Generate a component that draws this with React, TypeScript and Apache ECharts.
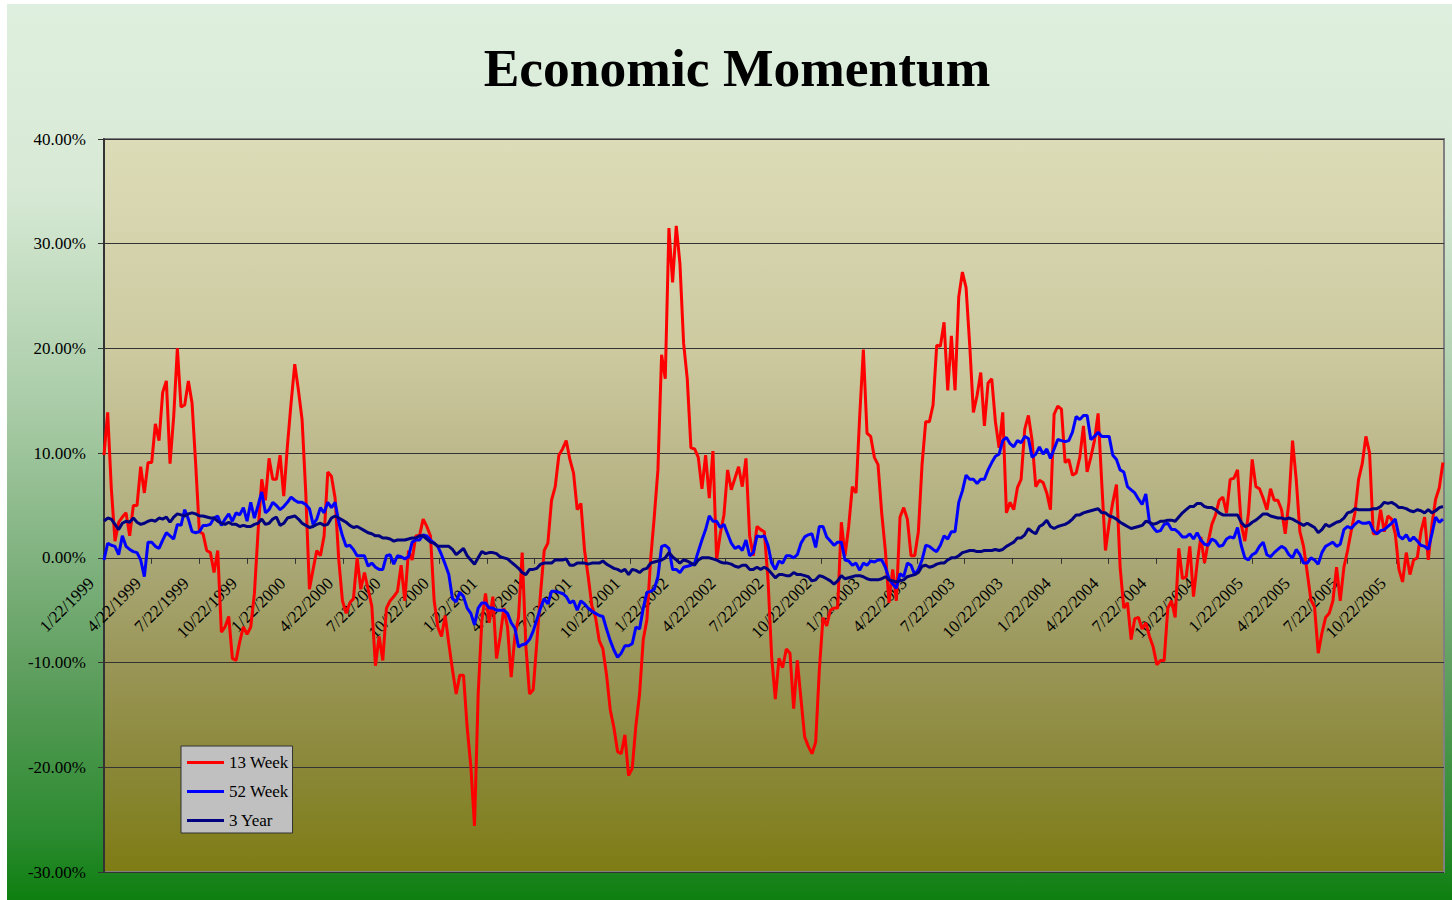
import { useEffect, useRef } from "react";
import * as echarts from "echarts";

const TITLE = "Economic Momentum";
const FIRST_DATE = "1/22/1999";
const AXIS_END = "1/22/2006";
const SERIES_NAMES = ["13 Week", "52 Week", "3 Year"];
const Y_MIN = -30;
const Y_MAX = 40;
const Y_STEP = 10;
const QUARTER_LABELS = [
  "1/22/1999", "4/22/1999", "7/22/1999", "10/22/1999",
  "1/22/2000", "4/22/2000", "7/22/2000", "10/22/2000",
  "1/22/2001", "4/22/2001", "7/22/2001", "10/22/2001",
  "1/22/2002", "4/22/2002", "7/22/2002", "10/22/2002",
  "1/22/2003", "4/22/2003", "7/22/2003", "10/22/2003",
  "1/22/2004", "4/22/2004", "7/22/2004", "10/22/2004",
  "1/22/2005", "4/22/2005", "7/22/2005", "10/22/2005",
];

// weekly values, in percent
const week13 = [
  9.8, 13.9, 6.6, 1.6, 3.4, 3.9, 4.3, 2.1, 5.0, 5.0,
  8.7, 6.2, 9.1, 9.1, 12.8, 11.2, 15.8, 16.9, 9.0, 13.5,
  20.0, 14.4, 14.6, 16.9, 14.8, 8.9, 2.5, 2.3, 0.7, 0.5,
  -1.4, 0.7, -7.1, -6.6, -5.6, -9.6, -9.8, -8.0, -6.6, -7.3,
  -6.6, -3.4, 2.5, 7.5, 5.5, 9.5, 7.5, 7.5, 9.8, 5.9,
  10.7, 14.8, 18.5, 16.0, 13.2, 6.2, -3.0, -1.1, 0.7, 0.2,
  2.1, 8.2, 7.8, 5.7, -0.2, -4.1, -5.3, -4.3, -3.9, 0.0,
  -3.0, -1.4, -3.0, -4.6, -10.3, -7.5, -9.8, -4.8, -4.1, -3.7,
  -3.2, -0.7, -4.1, 0.7, -0.2, 2.1, 2.1, 3.7, 3.0, 2.1,
  -4.1, -6.6, -7.5, -5.5, -8.2, -10.7, -13.0, -11.2, -11.2, -16.2,
  -19.9, -25.6, -13.0, -6.0, -3.4, -6.2, -3.7, -9.6, -7.5, -4.8,
  -6.6, -11.4, -7.5, -5.7, 0.5, -8.4, -13.0, -12.6, -8.0, -3.4,
  0.7, 1.4, 5.5, 6.8, 9.8, 10.4, 11.2, 9.4, 8.1, 4.6,
  5.2, 0.7, -1.8, -4.6, -5.7, -7.9, -8.7, -11.2, -14.5, -16.2,
  -18.5, -18.7, -16.9, -20.8, -20.1, -16.0, -13.0, -7.8, -5.9, -0.2,
  3.9, 8.4, 19.4, 17.1, 31.5, 26.3, 31.7, 28.1, 20.5, 17.1,
  10.5, 10.4, 9.6, 6.6, 9.8, 5.7, 10.2, -0.2, 2.3, 4.1,
  8.4, 6.5, 7.6, 8.7, 6.8, 9.5, 2.1, 0.2, 3.0, 2.7,
  2.5, -2.0, -9.4, -13.5, -9.6, -10.5, -8.7, -9.1, -14.4, -9.8,
  -13.5, -17.1, -18.0, -18.7, -17.6, -10.7, -5.7, -6.5, -5.0, -4.8,
  -4.8, 3.4, 0.2, 3.0, 6.8, 6.2, 13.5, 19.9, 11.9, 11.6,
  9.6, 8.9, 4.3, 0.7, -4.3, -1.1, -4.1, 3.9, 4.8, 3.7,
  0.2, 0.2, 2.5, 8.9, 13.0, 13.0, 14.6, 20.3, 20.2, 22.5,
  16.0, 21.2, 16.0, 24.9, 27.3, 25.8, 20.3, 13.9, 15.5, 17.7,
  12.6, 16.7, 17.1, 13.0, 10.5, 13.9, 4.3, 5.3, 4.6, 6.7,
  7.5, 12.3, 13.6, 11.2, 6.8, 7.4, 7.2, 6.2, 4.6, 13.7,
  14.5, 14.2, 9.1, 9.4, 7.9, 8.1, 9.6, 12.6, 8.2, 9.6,
  11.2, 13.8, 7.1, 0.7, 3.3, 5.3, 7.0, -0.9, -4.8, -4.3,
  -7.8, -5.8, -5.7, -6.8, -6.2, -7.5, -8.5, -10.2, -9.8, -9.8,
  -4.8, -4.1, -5.7, 0.9, -2.0, -1.8, 1.1, -3.7, -0.5, 2.0,
  -0.5, 1.5, 3.2, 4.1, 5.5, 5.8, 4.3, 7.5, 7.6, 8.4,
  3.2, 1.6, 4.3, 9.4, 6.8, 6.6, 5.7, 4.6, 6.6, 5.5,
  5.5, 4.6, 2.3, 5.3, 11.2, 7.5, 2.5, 1.1, -1.4, -4.0,
  -4.7, -9.1, -7.2, -5.7, -5.3, -4.1, -0.9, -4.1, -0.9, 0.7,
  2.6, 4.3, 7.5, 9.0, 11.6, 10.0, 2.3, 2.3, 4.6, 2.5,
  4.0, 3.7, 2.3, -1.1, -2.3, 0.5, -1.6, -0.2, 0.0, 2.5,
  3.9, -0.2, 3.2, 5.6, 6.7, 9.1,
];

const week52 = [
  -0.2, 1.4, 1.2, 1.1, 0.3, 2.1, 1.1, 0.8, 0.6, 0.5,
  -0.2, -1.8, 1.5, 1.5, 1.1, 0.9, 1.7, 2.4, 2.1, 1.8,
  3.2, 3.1, 4.6, 3.7, 2.5, 2.4, 2.5, 3.1, 3.1, 3.2,
  3.8, 4.0, 3.1, 3.7, 4.2, 3.5, 4.3, 4.1, 4.8, 3.5,
  5.3, 3.8, 5.0, 6.3, 4.3, 4.6, 5.3, 5.0, 4.6, 4.9,
  5.3, 5.8, 5.5, 5.3, 5.3, 5.1, 4.7, 3.2, 3.7, 4.8,
  4.3, 5.3, 4.8, 5.3, 3.4, 2.1, 1.1, 1.2, 0.8, 0.2,
  0.2, 0.2, -0.8, -0.5, -0.9, -1.1, -1.1, 0.2, 0.3, -0.6,
  0.2, 0.1, -0.1, 0.1, 1.5, 1.7, 1.7, 2.2, 2.1, 1.7,
  1.4, 1.1, 0.3, -0.6, -1.6, -3.9, -4.2, -3.3, -3.7, -4.8,
  -5.3, -6.4, -4.8, -4.3, -4.3, -4.8, -4.8, -5.0, -5.0, -5.0,
  -5.3, -6.2, -6.7, -8.5, -8.3, -8.2, -7.8, -7.0, -5.9, -4.8,
  -3.9, -4.4, -3.2, -3.2, -3.3, -3.4, -3.7, -4.3, -4.1, -5.0,
  -4.1, -4.4, -4.8, -5.1, -5.3, -5.5, -5.6, -6.8, -7.9, -8.8,
  -9.5, -9.1, -8.4, -8.4, -8.2, -6.6, -6.8, -4.8, -3.3, -3.2,
  -3.0, -1.8, 1.1, 1.2, 0.9, -1.1, -1.1, -1.4, -0.9, -0.8,
  -0.7, -0.5, 0.6, 1.7, 2.7, 4.0, 3.5, 3.5, 2.9, 3.2,
  2.3, 1.4, 0.9, 1.1, 0.7, 1.7, 0.2, 0.5, 2.1, 2.0,
  2.1, 1.2, -0.5, -1.1, -0.3, -0.5, 0.2, 0.2, 0.0, 0.3,
  1.4, 2.0, 2.2, 2.3, 1.0, 3.0, 3.0, 2.0, 1.6, 1.2,
  1.5, 1.5, -0.2, -0.3, -0.7, -0.5, -1.2, -0.5, -0.7, -0.3,
  -0.4, -0.2, -0.2, -0.9, -2.0, -2.5, -2.9, -1.5, -1.8, -0.5,
  -0.7, -1.6, -1.1, -0.2, 1.2, 1.1, 0.8, 0.6, 1.2, 2.1,
  1.8, 2.5, 2.5, 5.3, 6.4, 7.9, 7.5, 7.5, 7.1, 7.5,
  7.5, 8.4, 9.1, 9.7, 9.9, 11.2, 11.5, 10.9, 10.6, 11.2,
  11.0, 11.6, 11.4, 9.6, 9.9, 10.6, 9.9, 10.4, 9.5, 10.4,
  11.3, 11.2, 11.1, 11.2, 12.0, 13.5, 13.2, 13.6, 13.6, 11.3,
  11.6, 12.0, 11.6, 11.6, 11.6, 9.8, 9.4, 8.4, 8.2, 6.8,
  6.5, 6.2, 5.6, 5.1, 6.1, 3.4, 2.9, 2.5, 2.6, 3.2,
  3.3, 2.7, 2.7, 2.4, 2.0, 2.0, 2.3, 1.8, 2.4, 1.7,
  1.3, 1.2, 1.8, 1.6, 1.1, 1.2, 1.8, 2.0, 1.9, 2.9,
  1.2, 0.0, -0.2, 0.3, 0.5, 1.1, 1.5, 0.3, 0.1, 0.5,
  0.8, 1.1, 0.9, 0.3, 0.0, 0.8, 0.3, -0.5, -0.5, 0.0,
  -0.2, -0.6, 0.5, 1.1, 1.3, 1.5, 1.1, 1.3, 2.7, 3.0,
  2.8, 3.2, 3.5, 3.3, 3.3, 3.4, 2.6, 2.3, 2.6, 2.7,
  3.0, 3.3, 3.7, 2.1, 1.8, 2.2, 1.6, 2.0, 1.6, 1.2,
  1.1, 0.8, 2.3, 3.9, 3.4, 3.7,
];

const year3 = [
  3.5, 3.8, 3.7, 3.2, 2.7, 3.3, 3.5, 3.4, 3.8, 3.4,
  3.2, 3.3, 3.5, 3.6, 3.5, 3.8, 3.7, 3.9, 3.4, 3.9,
  4.2, 4.1, 4.0, 4.2, 4.3, 4.2, 4.0, 4.0, 3.9, 3.8,
  3.8, 3.5, 3.3, 3.2, 3.4, 3.2, 3.2, 3.0, 3.1, 3.0,
  3.0, 3.2, 3.3, 3.7, 3.2, 3.3, 3.7, 3.9, 3.1, 3.3,
  3.8, 3.9, 4.0, 3.7, 3.3, 3.1, 2.9, 3.0, 3.2, 3.3,
  3.1, 3.2, 3.8, 4.0, 3.8, 3.6, 3.4, 3.1, 2.9, 3.0,
  2.8, 2.6, 2.4, 2.3, 2.1, 2.1, 1.9, 1.9, 1.8, 1.6,
  1.7, 1.7, 1.7, 1.8, 1.9, 1.9, 2.1, 2.1, 1.8, 1.5,
  1.4, 1.1, 1.1, 1.1, 1.1, 0.8, 0.3, 0.6, 0.9, 0.2,
  -0.2, -0.6, 0.0, 0.6, 0.4, 0.5, 0.5, 0.4, 0.1, 0.0,
  -0.1, -0.4, -0.7, -1.0, -1.4, -1.6, -1.1, -1.1, -1.0, -0.6,
  -0.5, -0.5, -0.5, -0.2, -0.2, -0.2, -0.1, -0.7, -0.7, -0.5,
  -0.5, -0.5, -0.6, -0.5, -0.5, -0.5, -0.3, -0.6, -0.8, -1.0,
  -1.1, -1.3, -1.1, -1.6, -1.1, -1.2, -1.4, -1.1, -1.0, -0.5,
  -0.4, -0.3, -0.2, 0.0, 0.5, 0.1, -0.2, -0.5, -0.2, -0.3,
  -0.5, -0.7, -0.2, 0.0, 0.0, 0.0, -0.1, -0.2, -0.4, -0.5,
  -0.5, -0.6, -0.8, -0.9, -0.7, -0.7, -1.1, -1.1, -0.9, -1.1,
  -0.9, -1.1, -1.5, -1.9, -1.6, -1.6, -1.7, -1.7, -1.4, -1.6,
  -1.6, -1.7, -1.8, -2.2, -2.1, -1.7, -1.8, -2.0, -2.2, -2.5,
  -2.2, -1.7, -2.0, -1.9, -1.8, -1.7, -1.7, -1.8, -2.0, -2.1,
  -2.1, -2.1, -2.0, -1.8, -2.1, -2.2, -2.3, -2.2, -2.1, -1.8,
  -1.7, -1.6, -1.4, -0.8, -0.7, -0.9, -0.8, -0.6, -0.5, -0.5,
  -0.2, 0.0, 0.0, 0.2, 0.5, 0.6, 0.7, 0.7, 0.6, 0.6,
  0.7, 0.7, 0.7, 0.8, 0.7, 0.8, 1.1, 1.3, 1.5, 1.9,
  1.9, 2.2, 2.8, 2.5, 2.3, 3.0, 3.2, 3.6, 3.0, 2.8,
  3.0, 3.1, 3.2, 3.4, 3.7, 4.1, 4.1, 4.3, 4.4, 4.5,
  4.6, 4.7, 4.3, 4.3, 4.0, 3.9, 3.7, 3.4, 3.2, 3.0,
  2.8, 2.9, 3.0, 3.1, 3.5, 3.4, 3.2, 3.3, 3.5, 3.5,
  3.6, 3.6, 3.5, 3.9, 4.3, 4.6, 4.9, 4.9, 5.2, 5.2,
  4.9, 4.8, 4.8, 4.6, 4.3, 4.1, 4.1, 4.1, 4.1, 4.1,
  3.4, 3.0, 3.1, 3.4, 3.6, 3.9, 4.2, 4.2, 4.0, 3.9,
  3.8, 3.8, 3.7, 3.8, 3.7, 3.5, 3.3, 3.1, 3.3, 3.1,
  2.9, 2.4, 2.7, 3.2, 3.0, 3.2, 3.4, 3.5, 3.8, 4.3,
  4.4, 4.7, 4.6, 4.6, 4.6, 4.6, 4.7, 4.7, 4.9, 5.3,
  5.2, 5.3, 5.1, 4.8, 4.8, 4.7, 4.5, 4.4, 4.6, 4.5,
  4.3, 4.6, 4.3, 4.5, 4.8, 4.9,
];

const DAY_MS = 24 * 3600 * 1000;
const GRID_TOP = 139;
const GRID_HEIGHT = 733;

function parseMDY(s: string): number {
  const [m, d, y] = s.split("/").map(Number);
  return Date.UTC(y, m - 1, d);
}

function formatMDY(t: number): string {
  const d = new Date(t);
  return `${d.getUTCMonth() + 1}/${d.getUTCDate()}/${d.getUTCFullYear()}`;
}

export default function App() {
  const ref = useRef<HTMLDivElement | null>(null);

  useEffect(() => {
    if (!ref.current) return;
    const chart = echarts.init(ref.current, undefined, { renderer: "svg" });
    const t0 = parseMDY(FIRST_DATE);
    const dayOf = (s: string) => Math.round((parseMDY(s) - t0) / DAY_MS);
    const tickDays = QUARTER_LABELS.map(dayOf);
    const serif = "'Liberation Serif', 'Times New Roman', serif";
    // x axis sits on the 0% line: shift it up from the grid's bottom edge
    const zeroOffset = -GRID_HEIGHT * (0 - Y_MIN) / (Y_MAX - Y_MIN);

    const mk = (arr: number[]) => arr.map((v, i) => [i * 7, v]);

    const outerGrad = new echarts.graphic.LinearGradient(0, 0, 0, 1, [
      { offset: 0, color: "#dfefdf" },
      { offset: 0.2, color: "#d8ead6" },
      { offset: 0.45, color: "#a9cca7" },
      { offset: 0.62, color: "#80b27f" },
      { offset: 0.75, color: "#5e9e5e" },
      { offset: 0.93, color: "#2a8a2e" },
      { offset: 1, color: "#0e7f10" },
    ]);
    const plotGrad = new echarts.graphic.LinearGradient(0, 0, 0, 1, [
      { offset: 0, color: "#dcdcb8" },
      { offset: 0.286, color: "#cdcaa0" },
      { offset: 0.429, color: "#bdb98c" },
      { offset: 0.571, color: "#aaa877" },
      { offset: 0.714, color: "#9a9658" },
      { offset: 0.857, color: "#8a8838" },
      { offset: 1, color: "#7e7c14" },
    ]);

    chart.setOption({
      animation: false,
      backgroundColor: "#ffffff",
      graphic: [
        {
          type: "rect",
          z: -10,
          silent: true,
          shape: { x: 7, y: 4, width: 1445, height: 896 },
          style: { fill: outerGrad },
        },
        {
          type: "text",
          z: 10,
          x: 737,
          y: 68,
          style: {
            text: TITLE,
            font: `bold 53.5px ${serif}`,
            fill: "#000000",
            textAlign: "center",
            textVerticalAlign: "middle",
          },
        },
      ],
      legend: {
        orient: "vertical",
        left: 181,
        top: 746,
        padding: [8, 4, 4, 6],
        itemGap: 12,
        itemWidth: 37,
        itemHeight: 3,
        icon: "rect",
        backgroundColor: "#c0c0c0",
        borderColor: "#333333",
        borderWidth: 1,
        borderRadius: 0,
        textStyle: {
          fontFamily: serif,
          fontSize: 17,
          lineHeight: 17,
          color: "#000000",
        },
        data: SERIES_NAMES,
      },
      grid: {
        left: 104,
        top: GRID_TOP,
        width: 1340,
        height: GRID_HEIGHT,
        show: true,
        backgroundColor: plotGrad,
        borderColor: "#808080",
        borderWidth: 2,
        containLabel: false,
        outerBoundsMode: "none",
      },
      xAxis: {
        type: "value",
        min: 0,
        max: dayOf(AXIS_END),
        position: "bottom",
        offset: zeroOffset,
        axisLine: { show: true, onZero: false, lineStyle: { color: "#333333", width: 1 } },
        axisTick: {
          show: true,
          length: 6,
          customValues: tickDays,
          lineStyle: { color: "#333333", width: 1 },
        },
        axisLabel: {
          customValues: tickDays,
          rotate: 45,
          margin: 10,
          padding: [0, 18, 0, 0],
          fontFamily: serif,
          fontSize: 17,
          color: "#000000",
          formatter: (v: number) => formatMDY(t0 + v * DAY_MS),
          hideOverlap: false,
        },
        splitLine: { show: false },
      },
      yAxis: {
        type: "value",
        min: Y_MIN,
        max: Y_MAX,
        interval: Y_STEP,
        axisLine: { show: true, onZero: false, lineStyle: { color: "#333333", width: 2 } },
        axisTick: { show: true, length: 6, lineStyle: { color: "#333333", width: 1 } },
        axisLabel: {
          margin: 18,
          fontFamily: serif,
          fontSize: 17,
          color: "#000000",
          formatter: (v: number) => `${v.toFixed(2)}%`,
        },
        splitLine: { show: true, lineStyle: { color: "#333333", width: 1 } },
      },
      series: [
        {
          name: SERIES_NAMES[0],
          type: "line",
          data: mk(week13),
          showSymbol: false,
          symbol: "none",
          color: "#ff0000",
          lineStyle: { color: "#ff0000", width: 3 },
        },
        {
          name: SERIES_NAMES[1],
          type: "line",
          data: mk(week52),
          showSymbol: false,
          symbol: "none",
          color: "#0000ff",
          lineStyle: { color: "#0000ff", width: 3 },
        },
        {
          name: SERIES_NAMES[2],
          type: "line",
          data: mk(year3),
          showSymbol: false,
          symbol: "none",
          color: "#000080",
          lineStyle: { color: "#000080", width: 3 },
        },
      ],
    });

    return () => chart.dispose();
  }, []);

  return (
    <div
      ref={ref}
      style={{ position: "fixed", left: 0, top: 0, width: 1452, height: 900 }}
    />
  );
}
